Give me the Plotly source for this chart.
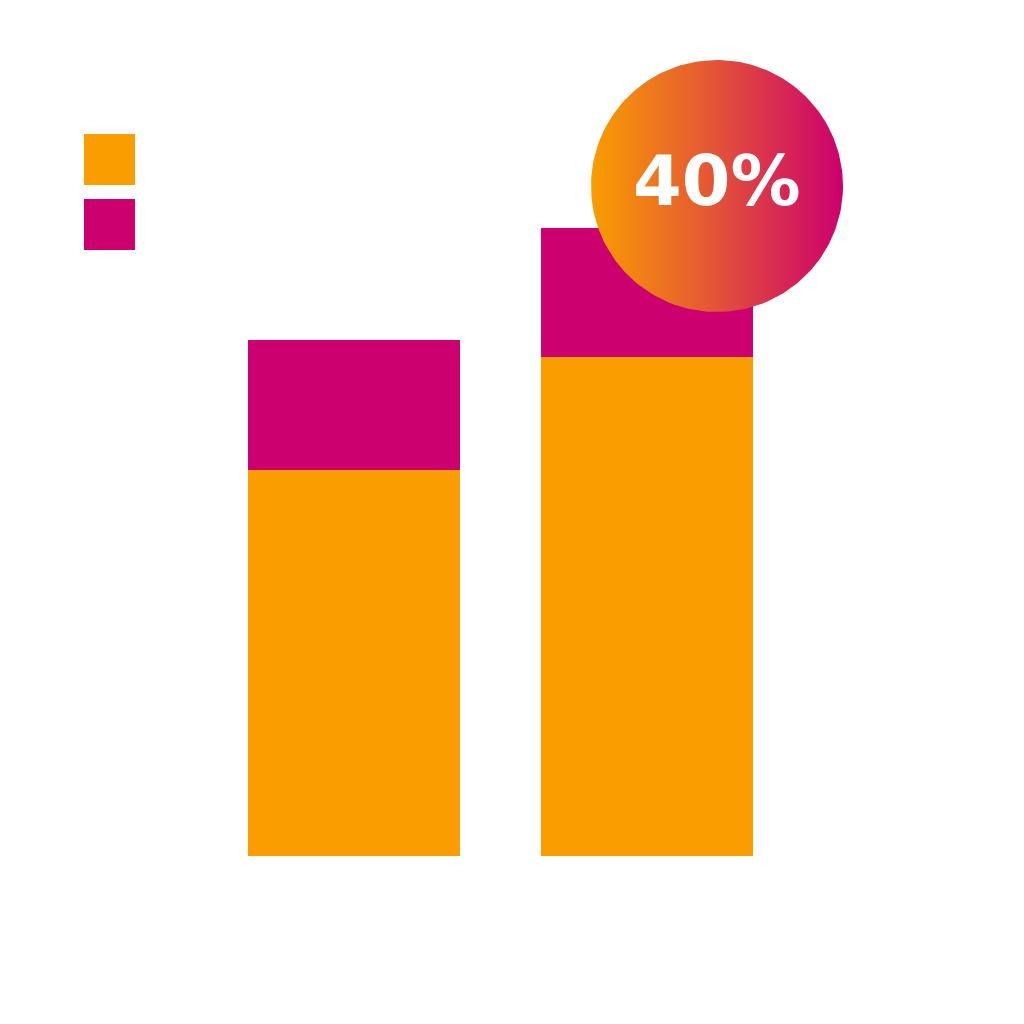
import numpy as np
import plotly.graph_objects as go

W, H = 1024, 1024

groups = ['A', 'B']
orange_vals = [74.8, 96.7]
magenta_vals = [25.2, 25]
series_names = ['Series 1', 'Series 2']
series_colors = ['#f99d00', '#cc006e']
badge_text = '40%'

# page is drawn with an 8px body offset, compensate for it
OFF = 8
px_per_x = 293.0
px_per_y = 5.16
x0_px = 354.0 - OFF
base_px = 856.0 - OFF
x_range = [-x0_px / px_per_x, (W - x0_px) / px_per_x]
y_range = [-(H - base_px) / px_per_y, base_px / px_per_y]

fig = go.Figure()

for vals, name, color in zip([orange_vals, magenta_vals], series_names, series_colors):
    fig.add_trace(go.Bar(
        x=[0, 1], y=vals, name=name, width=212 / px_per_x,
        marker=dict(color=color, line=dict(width=0)),
        showlegend=False, hoverinfo='skip',
    ))

# gradient badge circle
cx = (717 - OFF - x0_px) / px_per_x
cy = (base_px - (186 - OFF)) / px_per_y
r_px = 126
t = np.linspace(0, 2 * np.pi, 200)
fig.add_trace(go.Scatter(
    x=cx + r_px / px_per_x * np.cos(t),
    y=cy + r_px / px_per_y * np.sin(t),
    mode='lines', fill='toself', line=dict(width=0),
    fillgradient=dict(type='horizontal',
                      colorscale=[[0, series_colors[0]], [0.45, '#e55a32'], [1, series_colors[1]]]),
    showlegend=False, hoverinfo='skip',
))

fig.add_annotation(
    x=cx, y=cy, text=f'<b>{badge_text}</b>', showarrow=False,
    font=dict(family='DejaVu Sans', size=70, color='white', weight=800),
    xanchor='center', yanchor='middle', yshift=5,
)

# legend swatches (no labels)
for i, color in enumerate(series_colors):
    top = 134 + i * 65 - OFF
    left = 84 - OFF
    fig.add_shape(type='rect', xref='paper', yref='paper',
                  x0=left / W, x1=(left + 51) / W, y0=1 - (top + 51) / H, y1=1 - top / H,
                  fillcolor=color, line=dict(width=0), layer='above')

fig.update_layout(
    width=W, height=H,
    margin=dict(l=0, r=0, t=0, b=0),
    paper_bgcolor='white', plot_bgcolor='white',
    barmode='stack',
    xaxis=dict(range=x_range, visible=False, fixedrange=True),
    yaxis=dict(range=y_range, visible=False, fixedrange=True),
)

fig.write_html("out.html")
